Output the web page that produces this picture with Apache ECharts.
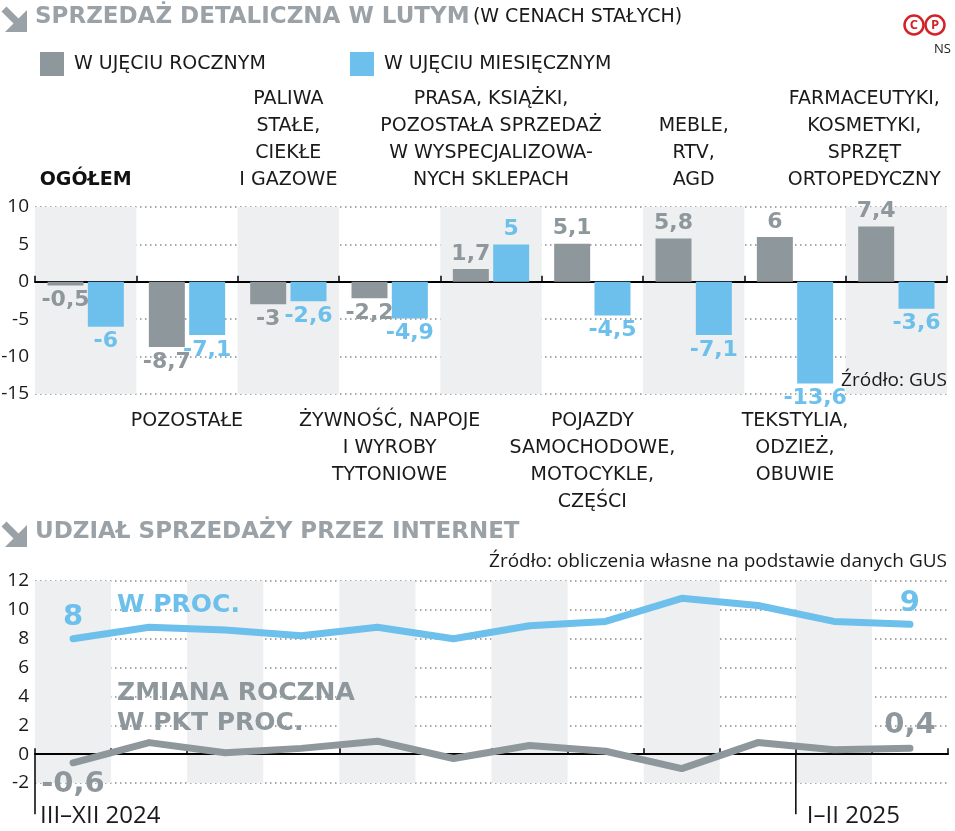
<!DOCTYPE html>
<html><head><meta charset="utf-8">
<script src="https://cdn.jsdelivr.net/npm/echarts@6/dist/echarts.min.js"></script>
<style>html,body{margin:0;padding:0;background:#fff}#c{width:955px;height:831px}</style>
</head><body><div id="c"></div>
<script>
// ---- data ----
const categories = ['OGÓŁEM','POZOSTAŁE','PALIWA\nSTAŁE,\nCIEKŁE\nI GAZOWE','ŻYWNOŚĆ, NAPOJE\nI WYROBY\nTYTONIOWE','PRASA, KSIĄŻKI,\nPOZOSTAŁA SPRZEDAŻ\nW WYSPECJALIZOWA-\nNYCH SKLEPACH','POJAZDY\nSAMOCHODOWE,\nMOTOCYKLE,\nCZĘŚCI','MEBLE,\nRTV,\nAGD','TEKSTYLIA,\nODZIEŻ,\nOBUWIE','FARMACEUTYKI,\nKOSMETYKI,\nSPRZĘT\nORTOPEDYCZNY'];
const yearly  = [-0.5, -8.7, -3, -2.2, 1.7, 5.1, 5.8, 6, 7.4];
const monthly = [-6, -7.1, -2.6, -4.9, 5, -4.5, -7.1, -13.6, -3.6];
const seriesNames = ['W UJĘCIU ROCZNYM', 'W UJĘCIU MIESIĘCZNYM'];
const months = ['III','IV','V','VI','VII','VIII','IX','X','XI','XII','I','II'];
const sharePct    = [8, 8.8, 8.6, 8.2, 8.8, 8, 8.9, 9.2, 10.8, 10.3, 9.2, 9];
const shareChange = [-0.6, 0.8, 0.1, 0.4, 0.9, -0.3, 0.6, 0.2, -1.0, 0.8, 0.3, 0.4];
const periodLabels = ['III–XII 2024', 'I–II 2025'];
const barAxis  = {min: -15, max: 10, interval: 5};
const lineAxis = {min: -2, max: 12, interval: 2};

// ---- styles ----
const GRAY = '#8e979c', BLUE = '#6cc0eb', TITLE = '#9ba2a7', BAND = '#eeeff0', INK = '#1a1a1a';
const CAT_FONT = 'DejaVu Sans';
const BOLD_FONT = 'DejaVu Sans';
const fmt = v => String(v).replace('.', ',');

function barData(arr){ return arr.map(v => ({value: v, label: {position: v < 0 ? 'bottom' : 'top'}})); }
function lineData(arr, firstPos, lastPos, firstDist, lastDist){
  return arr.map((v, i) => {
    const first = i === 0, last = i === arr.length - 1;
    return {value: v, label: {show: first || last, position: first ? firstPos : lastPos, distance: first ? firstDist : lastDist}};
  });
}

const chart = echarts.init(document.getElementById('c'), null, {renderer: 'canvas'});

const dotted = {type: [1.5, 3.5], color: '#8a8a8a', width: 1.5};
const yLabel = {fontSize: 19, color: INK, fontFamily: 'Open Sans', margin: 6};
const catRich = {
  b: {fontFamily: BOLD_FONT, fontWeight: 'bold', fontSize: 19, lineHeight: 27, color: '#111'},
  n: {fontFamily: CAT_FONT, fontSize: 19, lineHeight: 27, color: INK},
  r: {fontFamily: CAT_FONT, fontSize: 19, lineHeight: 27, color: INK, padding: [0, 64, 0, 0]}
};
const legendText = {fontSize: 19, fontFamily: CAT_FONT, color: INK, padding: [0, 0, 0, 5]};

const option = {
  animation: false,
  backgroundColor: '#fff',
  legend: [
    {data: [seriesNames[0]], left: 35, top: 47, itemWidth: 24, itemHeight: 24, icon: 'rect', selectedMode: false, textStyle: legendText},
    {data: [seriesNames[1]], left: 345, top: 47, itemWidth: 24, itemHeight: 24, icon: 'rect', selectedMode: false, textStyle: legendText}
  ],
  grid: [
    {left: 35, right: 8, top: 207, height: 187, containLabel: false, outerBoundsMode: 'none'},
    {left: 35, right: 7, top: 581, height: 202, containLabel: false, outerBoundsMode: 'none'}
  ],
  xAxis: [
    {type: 'category', gridIndex: 0, data: categories,
     axisLine: {onZero: true, lineStyle: {color: '#000', width: 2}},
     axisTick: {show: true, inside: true, interval: 0, length: 6, lineStyle: {color: '#000', width: 1.5}},
     axisLabel: {show: false, interval: 0}, splitLine: {show: false},
     splitArea: {show: true, interval: 0, areaStyle: {color: [BAND, 'rgba(255,255,255,0)']}}},
    {type: 'category', gridIndex: 0, data: categories, position: 'bottom',
     axisLine: {show: false, onZero: false}, axisTick: {show: false},
     axisLabel: {interval: 0, margin: 14, fontSize: 19, lineHeight: 27, fontFamily: CAT_FONT, color: INK,
                 formatter: (v, i) => i % 2 === 1 ? v : ''}},
    {type: 'category', gridIndex: 0, data: categories, position: 'top',
     axisLine: {show: false, onZero: false}, axisTick: {show: false},
     axisLabel: {interval: 0, margin: 13, fontSize: 19, lineHeight: 27, fontFamily: CAT_FONT, color: INK, rich: catRich,
                 formatter: (v, i) => {
                   if (i % 2 === 1) return '';
                   if (i === 0) return '{b|' + v + '}';
                   const tag = i === categories.length - 1 ? 'r' : 'n';
                   return v.split('\n').map(l => '{' + tag + '|' + l + '}').join('\n');
                 }}},
    {type: 'category', gridIndex: 1, data: months,
     axisLine: {onZero: true, lineStyle: {color: '#000', width: 2}},
     axisTick: {show: true, inside: true, interval: 0, length: 6, lineStyle: {color: '#000', width: 1.5}},
     axisLabel: {show: false, interval: 0}, splitLine: {show: false},
     splitArea: {show: true, interval: 0, areaStyle: {color: [BAND, 'rgba(255,255,255,0)']}}}
  ],
  yAxis: [
    {type: 'value', gridIndex: 0, min: barAxis.min, max: barAxis.max, interval: barAxis.interval,
     axisLine: {show: false}, axisTick: {show: false}, axisLabel: yLabel, splitLine: {lineStyle: dotted}},
    {type: 'value', gridIndex: 1, min: lineAxis.min, max: lineAxis.max, interval: lineAxis.interval,
     axisLine: {show: false}, axisTick: {show: false}, axisLabel: yLabel, splitLine: {lineStyle: dotted}}
  ],
  series: [
    {name: seriesNames[0], type: 'bar', xAxisIndex: 0, yAxisIndex: 0, data: barData(yearly),
     barWidth: 36, barGap: '12%', itemStyle: {color: GRAY}, z: 3,
     label: {show: true, distance: 4, color: GRAY, fontSize: 22, fontWeight: 'bold', fontFamily: BOLD_FONT,
             formatter: p => fmt(p.value)}},
    {name: seriesNames[1], type: 'bar', xAxisIndex: 0, yAxisIndex: 0, data: barData(monthly),
     barWidth: 36, barGap: '12%', itemStyle: {color: BLUE}, z: 3,
     label: {show: true, distance: 4, color: BLUE, fontSize: 22, fontWeight: 'bold', fontFamily: BOLD_FONT,
             formatter: p => fmt(p.value)}},
    {name: 'W PROC.', type: 'line', xAxisIndex: 3, yAxisIndex: 1, data: lineData(sharePct, 'top', 'top', 4, 4),
     symbol: 'circle', symbolSize: 5, itemStyle: {color: BLUE},
     lineStyle: {width: 7, color: BLUE, cap: 'round', join: 'round'}, z: 4,
     label: {color: BLUE, fontSize: 29, fontWeight: 'bold', fontFamily: BOLD_FONT, formatter: p => fmt(p.value)}},
    {name: 'ZMIANA ROCZNA', type: 'line', xAxisIndex: 3, yAxisIndex: 1, data: lineData(shareChange, 'bottom', 'top', 5, 6),
     symbol: 'circle', symbolSize: 5, itemStyle: {color: GRAY},
     lineStyle: {width: 7, color: GRAY, cap: 'round', join: 'round'}, z: 4,
     label: {color: GRAY, fontSize: 29, fontWeight: 'bold', fontFamily: BOLD_FONT, formatter: p => fmt(p.value)}}
  ]
};
chart.setOption(option);

// ---- decorations, positioned from the axes ----
const xs = months.map((m, i) => chart.convertToPixel({xAxisIndex: 3}, i));
const band = xs[1] - xs[0];
const y0 = chart.convertToPixel({yAxisIndex: 1}, 0);
const mark1 = xs[0] - band / 2;
const mark2 = (xs[9] + xs[10]) / 2;

function arrow(x, y){
  return [
    {type: 'line', shape: {x1: x + 3, y1: y + 3, x2: x + 19, y2: y + 19}, style: {stroke: TITLE, lineWidth: 7}},
    {type: 'polygon', shape: {points: [[x + 26, y + 4], [x + 26, y + 26], [x + 4, y + 26]]}, style: {fill: TITLE}}
  ];
}

const graphic = [
  ...arrow(1, 6),
  {type: 'text', left: 35, top: 6, style: {
    text: '{t|SPRZEDAŻ DETALICZNA W LUTYM} {s|(W CENACH STAŁYCH)}',
    rich: {t: {fontFamily: BOLD_FONT, fontWeight: 'bold', fontSize: 23, fill: TITLE, lineHeight: 30},
           s: {fontFamily: CAT_FONT, fontSize: 19, fill: INK, lineHeight: 30}}}},
  {type: 'circle', shape: {cx: 914, cy: 25, r: 9.5}, style: {fill: 'none', stroke: '#d2232a', lineWidth: 2.5}},
  {type: 'circle', shape: {cx: 935, cy: 25, r: 9.5}, style: {fill: 'none', stroke: '#d2232a', lineWidth: 2.5}},
  {type: 'text', x: 914, y: 25, style: {text: 'C', fontFamily: 'Open Sans', fontWeight: 'bold', fontSize: 13, fill: '#d2232a', align: 'center', verticalAlign: 'middle'}},
  {type: 'text', x: 935, y: 25, style: {text: 'P', fontFamily: 'Open Sans', fontWeight: 'bold', fontSize: 13, fill: '#d2232a', align: 'center', verticalAlign: 'middle'}},
  {type: 'text', x: 951, y: 49, style: {text: 'NS', fontFamily: 'Open Sans', fontSize: 13, fill: INK, align: 'right', verticalAlign: 'middle'}},
  {type: 'text', x: 947, y: 381, z: 10, style: {text: 'Źródło: GUS', fontFamily: 'Open Sans', fontSize: 19, fill: INK, align: 'right', verticalAlign: 'middle'}},
  ...arrow(1, 521),
  {type: 'text', left: 35, top: 521, style: {text: 'UDZIAŁ SPRZEDAŻY PRZEZ INTERNET', fontFamily: BOLD_FONT, fontWeight: 'bold', fontSize: 23, fill: TITLE}},
  {type: 'text', x: 947, y: 562, style: {text: 'Źródło: obliczenia własne na podstawie danych GUS', fontFamily: 'Open Sans', fontSize: 19, fill: INK, align: 'right', verticalAlign: 'middle'}},
  {type: 'text', x: 117, y: 605, z: 10, style: {text: 'W PROC.', fontFamily: BOLD_FONT, fontWeight: 'bold', fontSize: 25, fill: BLUE, verticalAlign: 'middle'}},
  {type: 'text', x: 117, y: 708, z: 10, style: {text: 'ZMIANA ROCZNA\nW PKT PROC.', fontFamily: BOLD_FONT, fontWeight: 'bold', fontSize: 25, lineHeight: 30, fill: GRAY, verticalAlign: 'middle'}},
  {type: 'line', z: 10, shape: {x1: mark1, y1: y0, x2: mark1, y2: y0 + 60}, style: {stroke: '#000', lineWidth: 1.5}},
  {type: 'line', z: 10, shape: {x1: mark2, y1: y0, x2: mark2, y2: y0 + 60}, style: {stroke: '#000', lineWidth: 1.5}},
  {type: 'text', x: mark1 + 5, y: y0 + 62, style: {text: periodLabels[0], fontFamily: 'Open Sans', fontSize: 24, fill: INK, verticalAlign: 'middle'}},
  {type: 'text', x: mark2 + 11, y: y0 + 62, style: {text: periodLabels[1], fontFamily: 'Open Sans', fontSize: 24, fill: INK, verticalAlign: 'middle'}}
];
chart.setOption({graphic: graphic});
</script></body></html>
